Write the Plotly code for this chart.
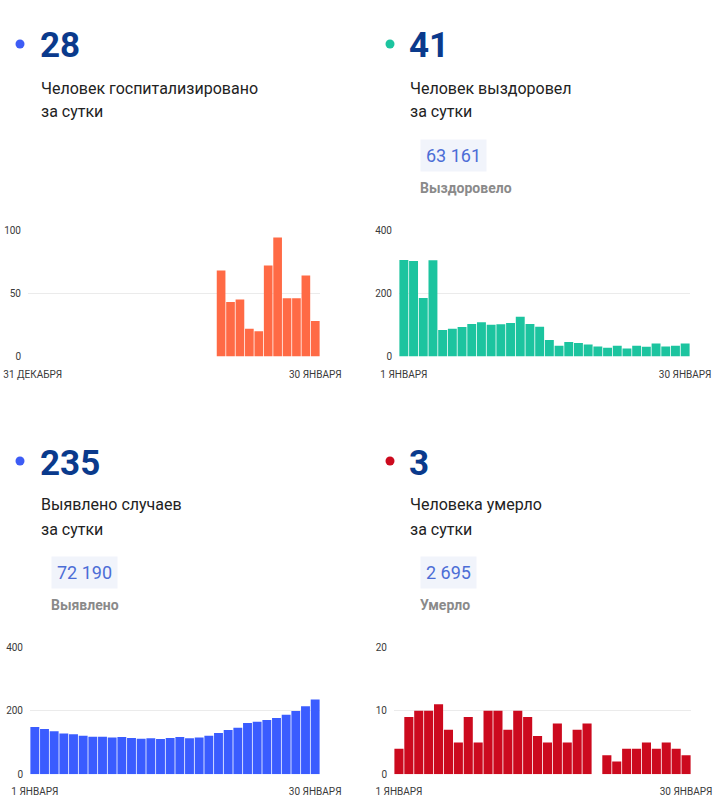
import plotly.graph_objects as go

W, H = 720, 811
FONT = "Roboto"

# ---------------- data ----------------
days_hosp = ["31.12"] + [f"{d:02d}.01" for d in range(1, 31)]
days_jan = [f"{d:02d}.01" for d in range(1, 31)]

hospitalized = [None, None, None, None, None, None, None, None, None, None,
                None, None, None, None, None, None, None, None, None, None,
                68, 43, 45, 22, 20, 72, 94, 46, 46, 64, 28]
recovered = [305, 302, 185, 304, 84, 88, 93, 103, 108, 100, 102, 106, 126, 103, 94,
             52, 34, 46, 43, 38, 32, 28, 34, 25, 34, 31, 41, 32, 34, 41]
cases = [149, 142, 135, 128, 126, 121, 118, 118, 116, 117, 114, 112, 113, 111, 114,
         117, 113, 116, 121, 130, 139, 146, 161, 165, 171, 177, 187, 199, 214, 235]
deaths = [4, 9, 10, 10, 11, 7, 5, 9, 5, 10, 10, 7, 10, 9, 6,
          5, 8, 5, 7, 8, None, 3, 2, 4, 4, 5, 4, 5, 4, 3]

head_values = ["28", "41", "235", "3"]
subtitle_line1 = ["Человек госпитализировано", "Человек выздоровел",
                  "Выявлено случаев", "Человека умерло"]
subtitle_line2 = ["за сутки", "за сутки", "за сутки", "за сутки"]
totals = [None, "63 161", "72 190", "2 695"]
total_labels = [None, "Выздоровело", "Выявлено", "Умерло"]
first_tick = ["31 ДЕКАБРЯ", "1 ЯНВАРЯ", "1 ЯНВАРЯ", "1 ЯНВАРЯ"]
last_tick = ["30 ЯНВАРЯ", "30 ЯНВАРЯ", "30 ЯНВАРЯ", "30 ЯНВАРЯ"]
y_ticks = [[0, 50, 100], [0, 200, 400], [0, 200, 400], [0, 10, 20]]

# ---------------- styles ----------------
bar_colors = ["#FF6A45", "#1CC49F", "#3A5CFF", "#CC0A1E"]
dot_colors = ["#3D5CF5", "#1CC49F", "#3D5CF5", "#CC0A1E"]
NAVY = "#0A3A8C"

# pixel geometry per panel: (x0, x1, ytop, ybottom)
plot_px = [(28, 320, 230, 356.5), (399, 690, 230, 356.5),
           (30, 320, 647, 774.3), (394, 691, 647, 774.3)]
text_x = [41, 410, 41, 410]
dot_x = [20, 390, 20, 390]
head_y = [44, 44, 461, 461]

series = [hospitalized, recovered, cases, deaths]
cats = [days_hosp, days_jan, days_jan, days_jan]


def fx(px):
    return px / W


def fy(py):
    return 1 - py / H


fig = go.Figure()
annotations = []
shapes = []

for i in range(4):
    n = "" if i == 0 else str(i + 1)
    fig.add_trace(go.Bar(x=cats[i], y=series[i], marker=dict(color=bar_colors[i], line=dict(width=0)),
                         xaxis="x" + n, yaxis="y" + n, hoverinfo="x+y", showlegend=False))
    x0, x1, yt, yb = plot_px[i]
    fig.layout["xaxis" + n] = dict(
        domain=[fx(x0), fx(x1)], anchor="y" + n, type="category",
        tickvals=[cats[i][0], cats[i][-1]], ticktext=[first_tick[i], last_tick[i]],
        showgrid=False, zeroline=False, showline=False, ticks="",
        tickfont=dict(family=FONT, size=10, color="#3a3a3a"), ticklabelstandoff=10,
        fixedrange=True, automargin=False,
    )
    fig.layout["yaxis" + n] = dict(
        domain=[fy(yb), fy(yt)], anchor="x" + n, range=[0, y_ticks[i][-1]],
        tickvals=y_ticks[i], gridcolor="#EBEBEB", gridwidth=1, zeroline=False,
        showline=False, ticks="", tickfont=dict(family=FONT, size=10, color="#3a3a3a"),
        ticklabelstandoff=6, fixedrange=True, automargin=False,
    )

    # headline dot
    shapes.append(dict(type="circle", xref="paper", yref="paper",
                       xsizemode="pixel", ysizemode="pixel",
                       xanchor=fx(dot_x[i]), yanchor=fy(head_y[i]),
                       x0=-4.5, x1=4.5, y0=-4.5, y1=4.5,
                       fillcolor=dot_colors[i], line=dict(width=0)))
    # headline number
    annotations.append(dict(text="<b>" + head_values[i] + "</b>", xref="paper", yref="paper",
                            x=fx(text_x[i] - 3), y=fy(head_y[i] + 2), xanchor="left", yanchor="middle",
                            showarrow=False, font=dict(family=FONT, size=35, color=NAVY)))
    # subtitle (two lines)
    for k, line in enumerate([subtitle_line1[i], subtitle_line2[i]]):
        annotations.append(dict(text=line, xref="paper", yref="paper",
                                x=fx(text_x[i] - 2), y=fy(head_y[i] + 44 + 24 * k),
                                xanchor="left", yanchor="middle", align="left", showarrow=False,
                                font=dict(family=FONT, size=16, color="#222222")))
    if totals[i]:
        annotations.append(dict(text=totals[i], xref="paper", yref="paper",
                                x=fx(text_x[i] + 10), y=fy(head_y[i] + 111), xanchor="left", yanchor="middle",
                                showarrow=False, bgcolor="#F1F4FB", borderpad=5,
                                font=dict(family=FONT, size=18, color="#4C6DD6")))
        annotations.append(dict(text="<b>" + total_labels[i] + "</b>", xref="paper", yref="paper",
                                x=fx(text_x[i] + 8), y=fy(head_y[i] + 144), xanchor="left", yanchor="middle",
                                showarrow=False, font=dict(family=FONT, size=14, color="#8A8A8A")))

fig.update_layout(
    width=W, height=H, margin=dict(l=0, r=0, t=0, b=0, autoexpand=False),
    paper_bgcolor="white", plot_bgcolor="white",
    bargap=0.08, annotations=annotations, shapes=shapes,
    font=dict(family=FONT),
)

fig.write_html("out.html", config={"displayModeBar": False},
               post_script="document.body.style.margin='0';")
